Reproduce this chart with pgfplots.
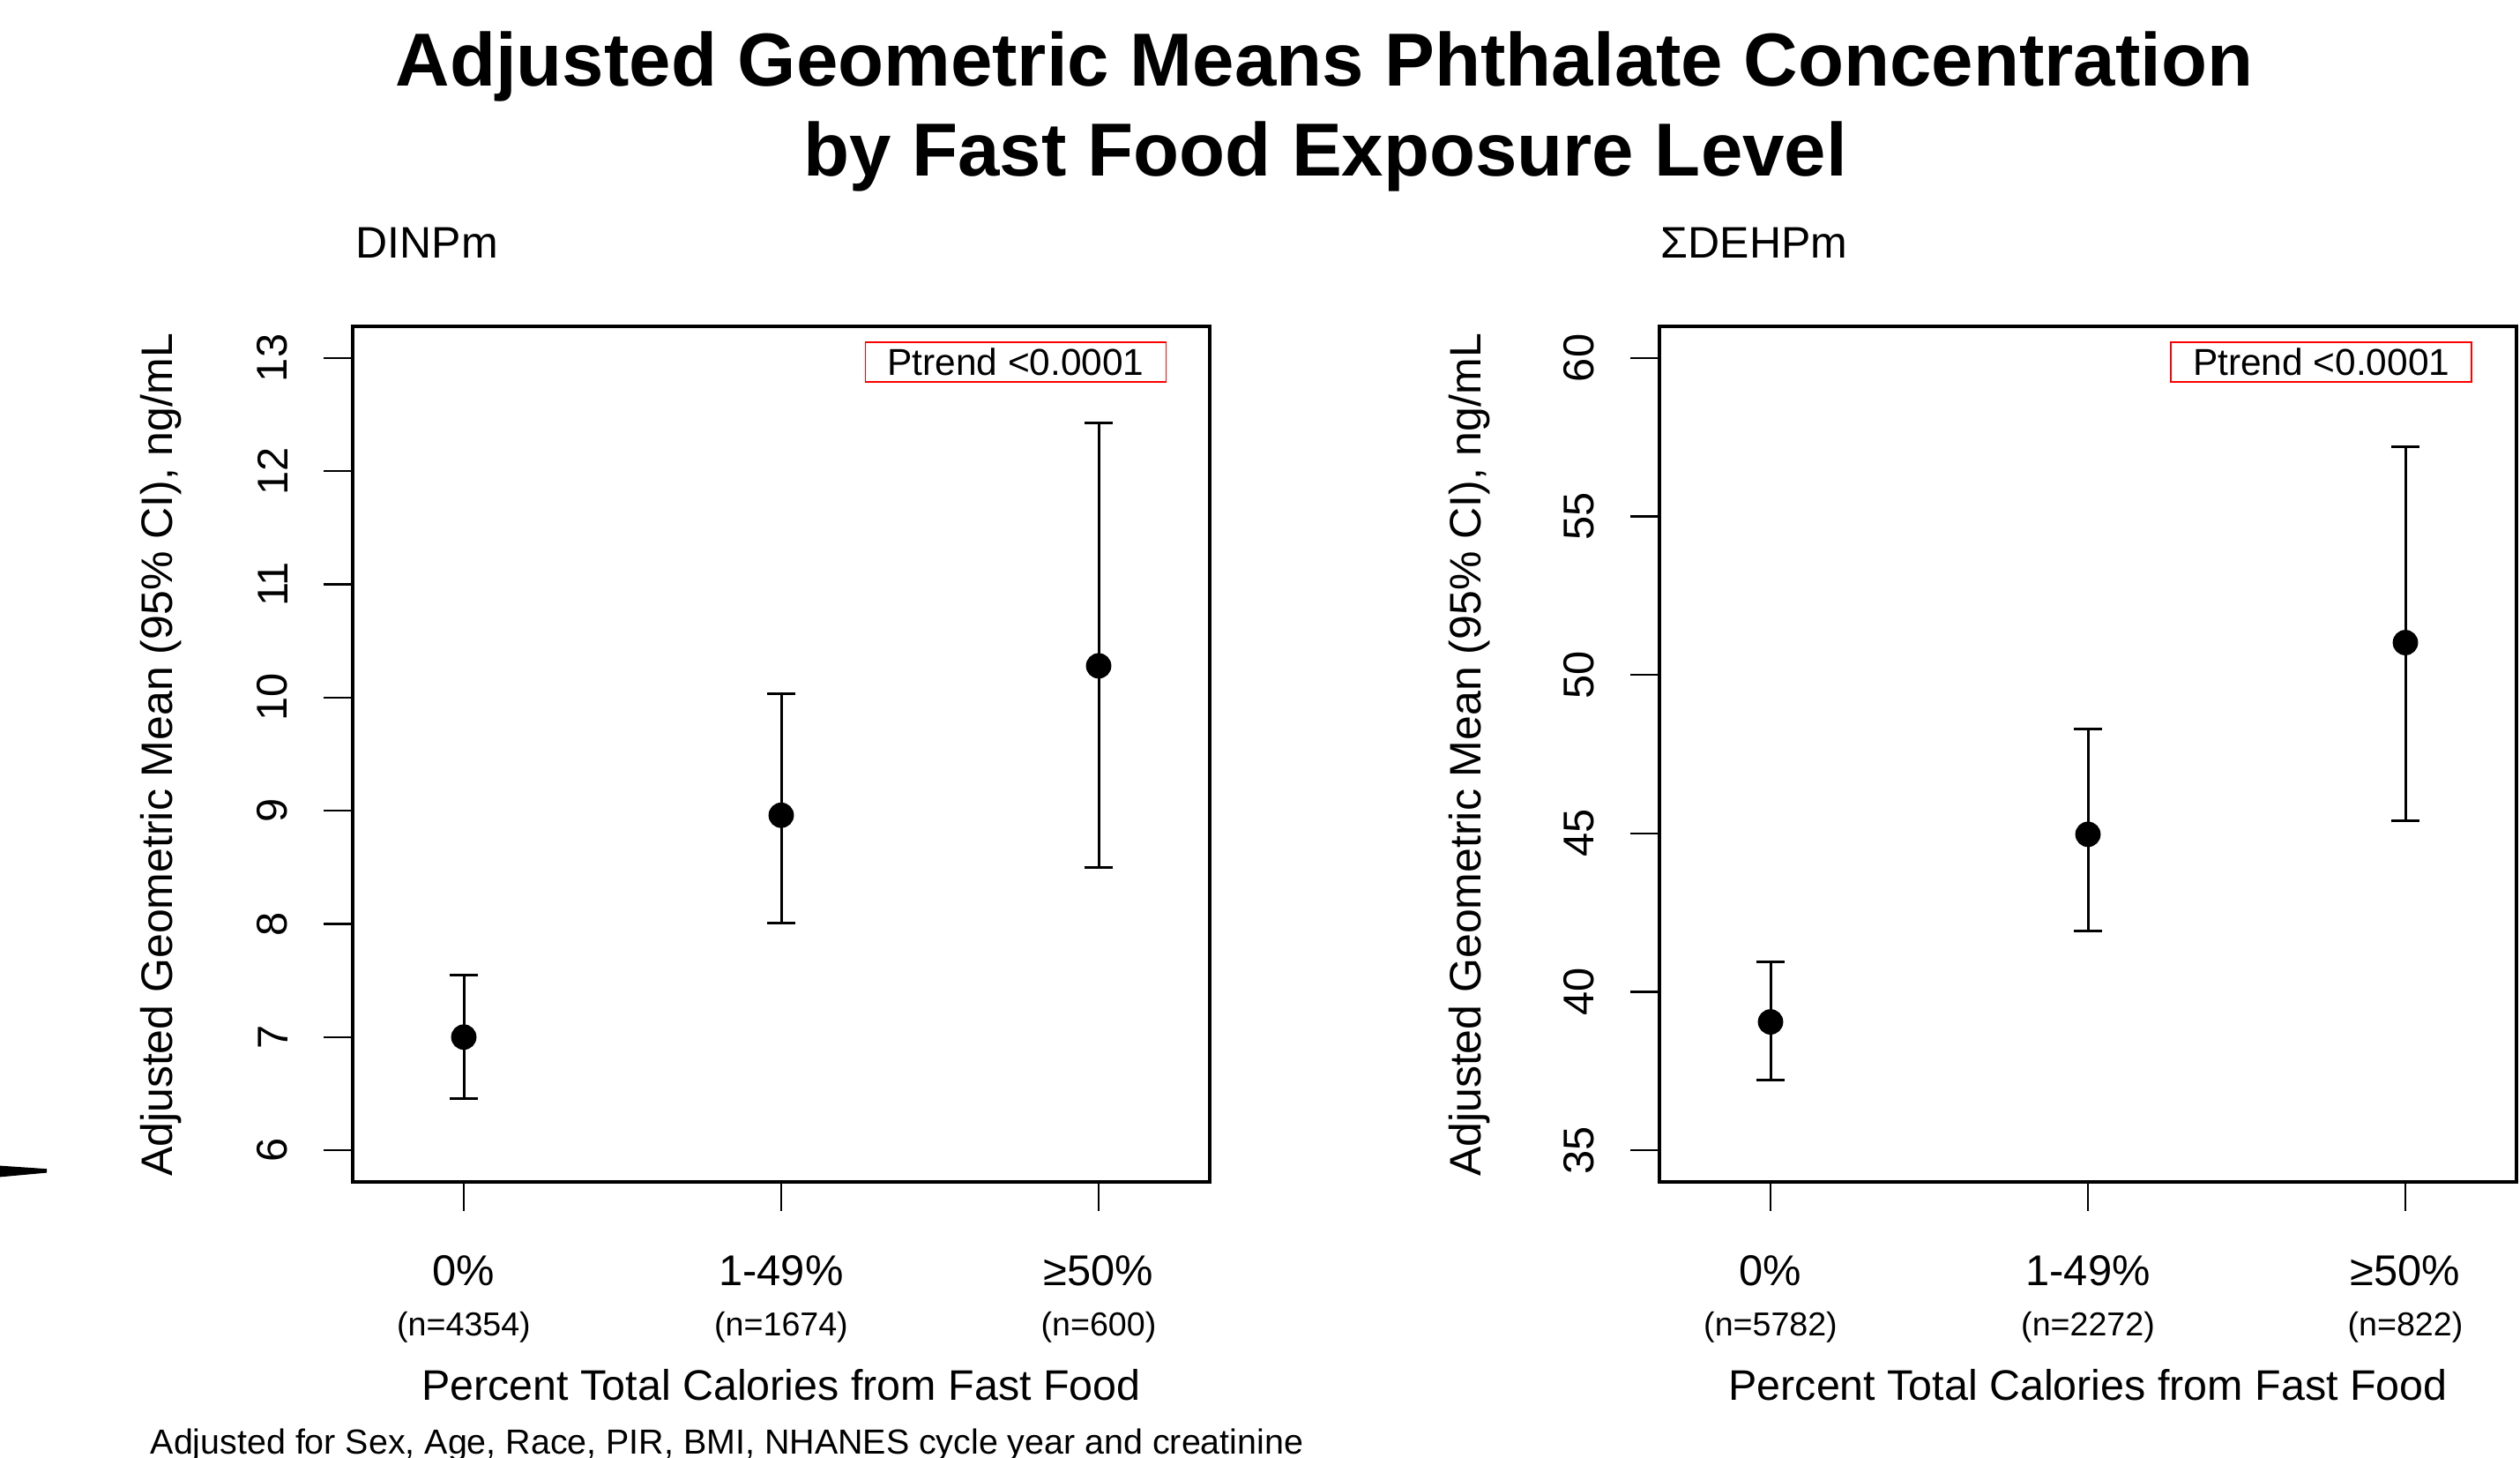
\documentclass[border=0pt]{standalone}
\usepackage{fontspec}
\setmainfont{Liberation Sans}
\usepackage{pgfplots}
\usepackage{pgfplotstable}
\pgfplotsset{compat=1.18}

% DINPm: geometric mean, CI offsets (plus, minus)
\pgfplotstableread{
x y ep em
1 7.00 0.55 0.54
2 8.96 1.07 0.95
3 10.28 2.15 1.78
}\dinp
% Sum DEHPm
\pgfplotstableread{
x y ep em
1 39.05 1.90 1.83
2 44.97 3.31 3.06
3 51.02 6.18 5.61
}\dehp

\pgfplotsset{panel/.style={
  scale only axis, width=243pt, height=242.5pt,
  xmin=0.65, xmax=3.35,
  xtick={1,2,3}, xticklabels={0\%,1-49\%,≥50\%},
  xtick pos=bottom, ytick pos=left, tick align=outside,
  major tick length=8.25pt,
  tick style={black, line width=0.55pt},
  axis line style={black, line width=0.9pt},
  tick label style={font=\fontsize{12.2}{14}\selectfont},
  xticklabel style={anchor=base, inner sep=0pt, yshift=-21pt},
  yticklabel style={xshift=-10pt, rotate=90, anchor=south, inner sep=0pt},
  /pgf/number format/assume math mode=true,
  clip=false,
},
pts/.style={only marks, mark=*, mark size=3.4pt, black,
  error bars/.cd, y dir=both, y explicit, error mark=|,
  error bar style={line width=0.75pt, black},
  error mark options={black, mark size=4pt, line width=0.75pt}}
}
\tikzset{
ptrend/.style={draw=red, line width=0.45pt, minimum width=85.25pt,
  minimum height=11.25pt, inner sep=0pt, anchor=north east,
  font=\fontsize{10.6}{12}\selectfont},
nlab/.style={anchor=base, yshift=-43.5pt, font=\fontsize{9.4}{11}\selectfont}
}

\begin{document}
\begin{tikzpicture}
\useasboundingbox (0,0) rectangle (714.5pt,413pt);

% titles
\node[anchor=base, font=\fontsize{21.3}{25}\selectfont\bfseries] at (375.5pt,388.5pt) {Adjusted Geometric Means Phthalate Concentration};
\node[anchor=base, font=\fontsize{21.3}{25}\selectfont\bfseries] at (375.75pt,363pt) {by Fast Food Exposure Level};

% left panel
\begin{axis}[panel, at={(100pt,78pt)}, anchor=south west,
  ymin=5.72, ymax=13.28, ytick={6,7,8,9,10,11,12,13}]
\addplot[pts] table[x=x, y=y, y error plus=ep, y error minus=em] {\dinp};
\node[ptrend] at (rel axis cs:0.950,0.9827) {Ptrend <0.0001};
\node[nlab] at (axis cs:1,5.72) {(n=4354)};
\node[nlab] at (axis cs:2,5.72) {(n=1674)};
\node[nlab] at (axis cs:3,5.72) {(n=600)};
\end{axis}

% right panel
\begin{axis}[panel, at={(470.5pt,78pt)}, anchor=south west,
  ymin=34, ymax=61, ytick={35,40,45,50,55,60}]
\addplot[pts] table[x=x, y=y, y error plus=ep, y error minus=em] {\dehp};
\node[ptrend] at (rel axis cs:0.9486,0.9827) {Ptrend <0.0001};
\node[nlab] at (axis cs:1,34) {(n=5782)};
\node[nlab] at (axis cs:2,34) {(n=2272)};
\node[nlab] at (axis cs:3,34) {(n=822)};
\end{axis}

% panel titles
\node[anchor=base west, inner sep=0pt, font=\fontsize{12.5}{15}\selectfont] at (100.75pt,339.75pt) {DINPm};
\node[anchor=base west, inner sep=0pt, font=\fontsize{12.5}{15}\selectfont] at (470.75pt,339.75pt) {ΣDEHPm};

% y labels
\node[rotate=90, anchor=base, font=\fontsize{12.5}{15}\selectfont] at (48.75pt,199pt) {Adjusted Geometric Mean (95\% CI), ng/mL};
\node[rotate=90, anchor=base, font=\fontsize{12.5}{15}\selectfont] at (419.75pt,199pt) {Adjusted Geometric Mean (95\% CI), ng/mL};

% x labels
\node[anchor=base, font=\fontsize{12.1}{15}\selectfont] at (221.5pt,16.25pt) {Percent Total Calories from Fast Food};
\node[anchor=base, font=\fontsize{12.1}{15}\selectfont] at (592pt,16.25pt) {Percent Total Calories from Fast Food};

% footnote
\node[anchor=base west, inner sep=0pt, font=\fontsize{9.85}{12}\selectfont] at (42.5pt,1pt) {Adjusted for Sex, Age, Race, PIR, BMI, NHANES cycle year and creatinine};

% stray stroke at left edge of the original slide
\fill[black] (0pt,79.4pt) -- (13.25pt,80.6pt) -- (13.25pt,81.7pt) -- (0pt,82.6pt) -- cycle;
\end{tikzpicture}
\end{document}
